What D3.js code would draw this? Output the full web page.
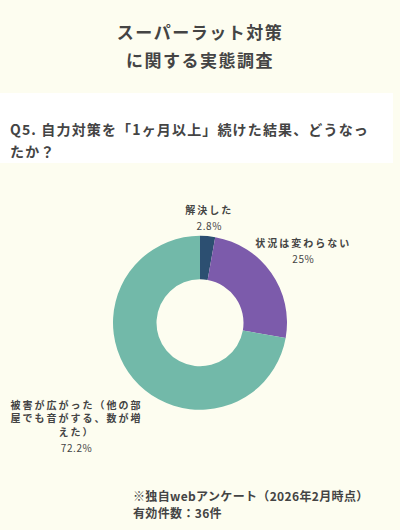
<!DOCTYPE html>
<html><head><meta charset="utf-8">
<script src="https://cdn.jsdelivr.net/npm/d3@7"></script>
<style>
html,body{margin:0;padding:0;background:#fdfdf0;}
svg{display:block;font-family:"Noto Sans CJK JP","Noto Sans",sans-serif;}
</style></head>
<body>
<script>
const titleLines = ["スーパーラット対策", "に関する実態調査"];
const questionLines = ["Q5. 自力対策を「1ヶ月以上」続けた結果、どうなっ", "たか？"];
const categories = [["解決した"], ["状況は変わらない"], ["被害が広がった（他の部", "屋でも音がする、数が増", "えた）"]];
const values = [2.8, 25, 72.2];
const valueLabels = ["2.8%", "25%", "72.2%"];
const colors = ["#2c4f71", "#7c5bab", "#72b9a9"];
const labelRadii = [105, 126, 161];
const footerLines = ["※独自webアンケート（2026年2月時点）", "有効件数：36件"];

const W = 400, H = 530;
const svg = d3.select("body").append("svg").attr("width", W).attr("height", H);
svg.append("rect").attr("width", W).attr("height", H).attr("fill", "#fdfdf0");
const ink = "#444444";

// title
svg.append("g").selectAll("text").data(titleLines).join("text")
  .attr("x", 200).attr("y", (d, i) => 39 + i * 28)
  .attr("text-anchor", "middle").attr("font-size", 17).attr("font-weight", 700)
  .attr("letter-spacing", 1.5).attr("fill", ink).text(d => d);

// question band
svg.append("rect").attr("x", 0).attr("y", 93).attr("width", 393).attr("height", 70).attr("fill", "#ffffff");
svg.append("g").selectAll("text").data(questionLines).join("text")
  .attr("x", 10).attr("y", (d, i) => 135 + i * 22)
  .attr("font-size", 14).attr("font-weight", 700).attr("letter-spacing", 1.15)
  .attr("fill", ink).text(d => d);

// donut
const cx = 200, cy = 322.8, R = 87, r0 = 43.5;
const pie = d3.pie().sort(null).value(d => d);
const arcs = pie(values);
const arc = d3.arc().innerRadius(r0).outerRadius(R);
const g = svg.append("g").attr("transform", `translate(${cx},${cy})`);
g.selectAll("path").data(arcs).join("path").attr("d", arc).attr("fill", (d, i) => colors[i]);

// labels
const lineH = 13.5, pctGap = 16;
arcs.forEach((a, i) => {
  const la = d3.arc().innerRadius(labelRadii[i]).outerRadius(labelRadii[i]);
  const [lx, ly] = la.centroid(a);
  const names = categories[i];
  const blockH = (names.length - 1) * lineH + pctGap;
  const top = ly - blockH / 2;
  const lg = g.append("g");
  names.forEach((n, j) => {
    lg.append("text").attr("x", lx).attr("y", top + j * lineH + 4)
      .attr("text-anchor", "middle").attr("font-size", 10).attr("font-weight", 700)
      .attr("letter-spacing", 2).attr("fill", ink).text(n);
  });
  lg.append("text").attr("x", lx).attr("y", top + (names.length - 1) * lineH + pctGap + 4)
    .attr("text-anchor", "middle").attr("font-size", 10).attr("font-weight", 400)
    .attr("letter-spacing", 0.6).attr("fill", ink).text(valueLabels[i]);
});

// footer
svg.append("g").selectAll("text").data(footerLines).join("text")
  .attr("x", 133).attr("y", (d, i) => 501 + i * 17)
  .attr("font-size", 12).attr("font-weight", 700).attr("letter-spacing", 0.35)
  .attr("fill", ink).text(d => d);
</script>
</body></html>
